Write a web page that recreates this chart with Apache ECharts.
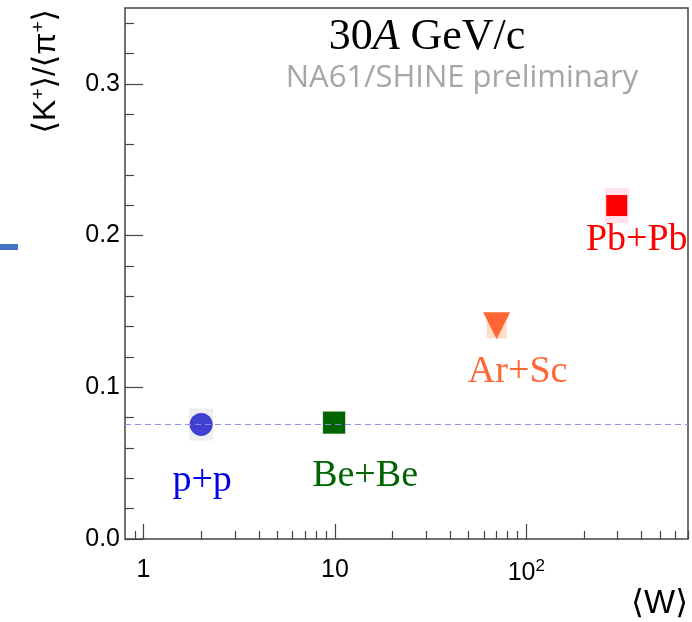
<!DOCTYPE html>
<html>
<head>
<meta charset="utf-8">
<script src="https://cdn.jsdelivr.net/npm/echarts@6/dist/echarts.min.js"></script>
<style>
  html, body { margin: 0; padding: 0; background: #fff; }
  #chart { width: 692px; height: 622px; }
</style>
</head>
<body>
<div id="chart"></div>
<script>
// Collision systems at 30A GeV/c
const systems = ['p+p', 'Be+Be', 'Ar+Sc', 'Pb+Pb'];
// Mean number of wounded nucleons <W>
const wValues = [2.0, 9.9, 70, 297];
// <K+>/<pi+> ratio
const ratio = [0.0755, 0.0767, 0.1405, 0.2198];
// Systematic uncertainty of the ratio
const sysErr = [0.0106, 0.0075, 0.0083, 0.0116];

// Axis ranges and ticks
const xRange = [0.8, 700];
const yRange = [0, 0.35];
const yMajorTicks = [0, 0.1, 0.2, 0.3];
const yMinorTicks = [0.02, 0.04, 0.06, 0.08, 0.12, 0.14, 0.16, 0.18, 0.22, 0.24, 0.26, 0.28, 0.32, 0.34];
const xMajorTicks = [1, 10, 100];
const xMinorTicks = [0.9, 2, 3, 4, 5, 6, 7, 8, 9, 20, 30, 40, 50, 60, 70, 80, 90, 200, 300, 400, 500, 600, 700];

const markerStyle = [
  { symbol: 'circle', size: 23, rotate: 0, color: '#4040d0', box: '#efefef', boxHalfW: 12, label: '#0000e6', offset: [1, 57] },
  { symbol: 'rect', size: 22, rotate: 0, color: '#006400', box: '#cfe6cf', boxHalfW: 12, label: '#006400', offset: [31, 53] },
  { symbol: 'triangle', size: 27, rotate: 180, color: '#ff6633', box: '#ffdcc8', boxHalfW: 10, label: '#ff6633', offset: [21, 46] },
  { symbol: 'rect', size: 21, rotate: 0, color: '#ff0000', box: '#ffe3e8', boxHalfW: 12, label: '#ff0000', offset: [20, 34] }
];

const log10 = Math.log10;
const chart = echarts.init(document.getElementById('chart'));

function xLabel(v) {
  const e = Math.round(v);
  if (e === 0) return '1';
  if (e === 1) return '10';
  return '10{s|' + e + '}';
}

const noLine = { show: false, onZero: false };

// systematic boxes
const boxSeries = {
  type: 'custom',
  xAxisIndex: 0,
  yAxisIndex: 0,
  z: 2,
  data: systems.map((s, i) => [wValues[i], ratio[i], sysErr[i], i]),
  renderItem: function (params, api) {
    const idx = api.value(3);
    const c = api.coord([api.value(0), api.value(1)]);
    const hi = api.coord([api.value(0), api.value(1) + api.value(2)]);
    const lo = api.coord([api.value(0), api.value(1) - api.value(2)]);
    const hw = markerStyle[idx].boxHalfW;
    return {
      type: 'rect',
      shape: { x: c[0] - hw, y: hi[1], width: hw * 2, height: lo[1] - hi[1] },
      style: { fill: markerStyle[idx].box }
    };
  }
};

const pointSeries = systems.map((name, i) => ({
  type: 'scatter',
  name: name,
  xAxisIndex: 0,
  yAxisIndex: 0,
  z: 3,
  symbol: markerStyle[i].symbol,
  symbolSize: markerStyle[i].size,
  symbolRotate: markerStyle[i].rotate,
  itemStyle: { color: markerStyle[i].color, opacity: 1 },
  label: {
    show: true,
    position: 'inside',
    offset: markerStyle[i].offset,
    formatter: name,
    fontFamily: '"Liberation Serif", "Times New Roman", serif',
    fontSize: 38,
    color: markerStyle[i].label
  },
  emphasis: { disabled: true },
  data: [[wValues[i], ratio[i]]]
}));

// dashed reference line at the p+p value, across the full <W> range
const refSeries = {
  type: 'line',
  xAxisIndex: 0,
  yAxisIndex: 0,
  z: 4,
  symbol: 'none',
  silent: true,
  lineStyle: { color: '#8c8ce6', type: [6, 4], width: 1 },
  data: [[xRange[0], ratio[0]], [xRange[1], ratio[0]]]
};

const option = {
  animation: false,
  backgroundColor: '#fff',
  grid: { left: 125, top: 8, right: 4, bottom: 83, show: true, borderColor: '#444', borderWidth: 1.5, backgroundColor: 'transparent' },
  xAxis: [
    {
      type: 'log', logBase: 10, min: xRange[0], max: xRange[1], position: 'bottom',
      axisLine: noLine, axisTick: { show: false }, axisLabel: { show: false }, splitLine: { show: false }
    },
    {
      type: 'value', min: log10(xRange[0]), max: log10(xRange[1]), position: 'bottom',
      axisLine: noLine, splitLine: { show: false },
      axisTick: { show: true, inside: true, length: 15, lineStyle: { color: '#444', width: 1.2 }, customValues: xMajorTicks.map(log10) },
      axisLabel: {
        show: true, margin: 19, customValues: xMajorTicks.map(log10),
        fontFamily: '"Liberation Sans", Arial, sans-serif', fontSize: 25, color: '#000',
        formatter: xLabel,
        rich: { s: { fontSize: 17, fontFamily: '"Liberation Sans", Arial, sans-serif', color: '#000', verticalAlign: 'top', padding: [0, 0, 14, 0] } }
      }
    },
    {
      type: 'value', min: log10(xRange[0]), max: log10(xRange[1]), position: 'bottom',
      axisLine: noLine, splitLine: { show: false }, axisLabel: { show: false },
      axisTick: { show: true, inside: true, length: 8, lineStyle: { color: '#444', width: 1.2 }, customValues: xMinorTicks.map(log10) }
    }
  ],
  yAxis: [
    {
      type: 'value', min: yRange[0], max: yRange[1], position: 'left',
      axisLine: noLine, splitLine: { show: false },
      axisTick: { show: true, inside: true, length: 18, lineStyle: { color: '#444', width: 1.2 }, customValues: yMajorTicks },
      axisLabel: {
        show: true, margin: 5, customValues: yMajorTicks,
        fontFamily: '"Liberation Sans", Arial, sans-serif', fontSize: 25, color: '#000',
        formatter: v => v.toFixed(1)
      }
    },
    {
      type: 'value', min: yRange[0], max: yRange[1], position: 'left',
      axisLine: noLine, splitLine: { show: false }, axisLabel: { show: false },
      axisTick: { show: true, inside: true, length: 9, lineStyle: { color: '#444', width: 1.2 }, customValues: yMinorTicks }
    }
  ],
  series: [boxSeries, ...pointSeries, refSeries],
  graphic: [
    {
      type: 'text', x: 427, y: 37, z: 10,
      style: {
        text: '30{i|A} GeV/c', align: 'center', verticalAlign: 'middle',
        font: '44px "Liberation Serif", "Times New Roman", serif', fill: '#000',
        rich: { i: { fontStyle: 'italic', fontSize: 44, fontFamily: '"Liberation Serif", serif', fill: '#000' } }
      }
    },
    {
      type: 'text', x: 462, y: 78, z: 10,
      style: {
        text: 'NA61/SHINE preliminary', align: 'center', verticalAlign: 'middle',
        font: '31px "Open Sans", "Noto Sans", sans-serif', fill: '#a6a6a6'
      }
    },
    {
      type: 'text', x: 46, y: 9, rotation: Math.PI / 2, z: 10,
      style: {
        text: '⟨K{s|+}⟩/⟨π{s|+}⟩', align: 'right', verticalAlign: 'middle',
        font: '32px "Liberation Sans", "DejaVu Sans", sans-serif', fill: '#000',
        rich: { s: { fontSize: 19, fontFamily: '"Liberation Sans", sans-serif', fill: '#000', verticalAlign: 'top', padding: [0, 0, 14, 0] } }
      }
    },
    {
      type: 'text', x: 688, y: 604, z: 10,
      style: {
        text: '⟨W⟩', align: 'right', verticalAlign: 'middle',
        font: '33px "Liberation Sans", "DejaVu Sans", sans-serif', fill: '#000'
      }
    },
    {
      type: 'rect', shape: { x: 0, y: 244, width: 18, height: 6 }, style: { fill: '#4472c4' }
    }
  ]
};

chart.setOption(option);
</script>
</body>
</html>
